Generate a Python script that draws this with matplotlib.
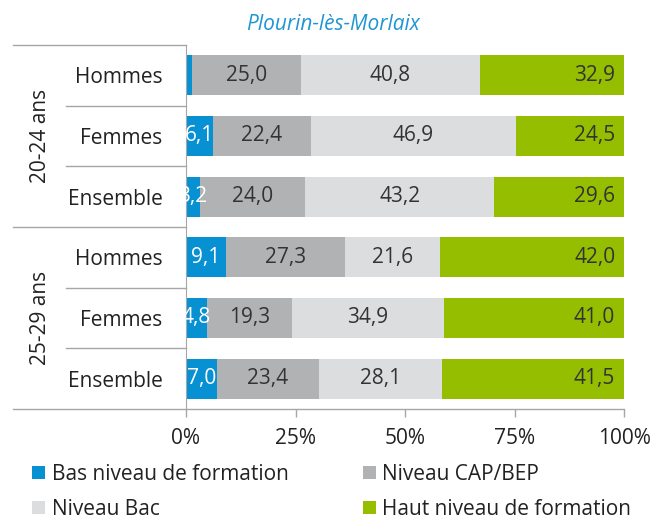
import matplotlib
matplotlib.use("Agg")
import matplotlib.pyplot as plt
import matplotlib.transforms as mtransforms
from matplotlib.patches import Patch
import numpy as np

plt.rcParams['font.family'] = ['Open Sans', 'DejaVu Sans']

title = "Plourin-lès-Morlaix"
categories = ["Hommes", "Femmes", "Ensemble", "Hommes", "Femmes", "Ensemble"]
groups = ["20-24 ans", "25-29 ans"]
series_names = ["Bas niveau de formation", "Niveau CAP/BEP", "Niveau Bac", "Haut niveau de formation"]
bas = [1.3, 6.1, 3.2, 9.1, 4.8, 7.0]
cap = [25.0, 22.4, 24.0, 27.3, 19.3, 23.4]
bac = [40.8, 46.9, 43.2, 21.6, 34.9, 28.1]
haut = [32.9, 24.5, 29.6, 42.0, 41.0, 41.5]
xticks = [0, 25, 50, 75, 100]
xticklabels = ["0%", "25%", "50%", "75%", "100%"]

colors = ["#0791D3", "#B1B2B4", "#DCDDDF", "#95BE00"]
text_colors = ["white", "#333333", "#333333", "#333333"]
line_col = "#A6A6A6"
FS = 15

fig = plt.figure(figsize=(6.53, 5.21), dpi=100)
ax = fig.add_axes([186/653, 1-409/521, 438/653, 364/521])

series = [bas, cap, bac, haut]
y = np.arange(len(categories))
left = np.zeros(len(categories))
for k, vals in enumerate(series):
    vals = np.array(vals)
    ax.barh(y, vals, left=left, height=0.66, color=colors[k], edgecolor='none')
    for i, v in enumerate(vals):
        if v < 2:
            continue
        if k == 3:
            ax.text(left[i] + v - 2.0, y[i], f"{v:.1f}".replace('.', ','),
                    ha='right', va='center', color=text_colors[k], fontsize=FS, clip_on=True)
        else:
            ax.text(left[i] + v / 2, y[i], f"{v:.1f}".replace('.', ','),
                    ha='center', va='center', color=text_colors[k], fontsize=FS, clip_on=True)
    left += vals

ax.set_xlim(0, 100)
ax.set_ylim(5.5, -0.5)
ax.set_yticks(y)
ax.set_yticklabels(categories, fontsize=FS, color='#222222')
ax.tick_params(axis='y', length=0, pad=17)
ax.set_xticks(xticks)
ax.set_xticklabels(xticklabels, fontsize=FS, color='#222222')
ax.tick_params(axis='x', length=6, color=line_col, width=1, pad=8, direction='out')

for s in ['top', 'right', 'bottom']:
    ax.spines[s].set_visible(False)
ax.spines['left'].set_color(line_col)
ax.spines['left'].set_bounds(-0.5, 5.5)

trans = mtransforms.blended_transform_factory(ax.transAxes, ax.transData)
x_outer = (13 - 186) / 438
x_inner = (66 - 186) / 438
for yy, x0 in [(-0.5, x_outer), (0.5, x_inner), (1.5, x_inner), (2.5, x_outer),
               (3.5, x_inner), (4.5, x_inner)]:
    ax.plot([x0, 0], [yy, yy], transform=trans, color=line_col, lw=1, clip_on=False)
ax.plot([x_outer, 1], [5.5, 5.5], transform=trans, color=line_col, lw=1, clip_on=False)

for g, name in enumerate(groups):
    ax.text((40 - 186) / 438, 3 * g + 1, name, transform=trans, rotation=90,
            ha='center', va='center', fontsize=FS, color='#222222')

fig.text(333/653, 1 - 24/521, title, ha='center', va='center', fontsize=15,
         style='italic', color='#1E96D3')

handles = [Patch(facecolor=c, edgecolor='none') for c in colors]
order = [0, 2, 1, 3]
fig.legend([handles[i] for i in order], [series_names[i] for i in order],
           ncol=2, loc='upper left', bbox_to_anchor=(32/653, 1 - 464/521),
           frameon=False, fontsize=FS, handlelength=0.62, handleheight=0.62,
           handletextpad=0.33, columnspacing=3.55, labelspacing=0.66,
           borderaxespad=0, borderpad=0, labelcolor='#222222')

fig.savefig("out.png", dpi=100)
